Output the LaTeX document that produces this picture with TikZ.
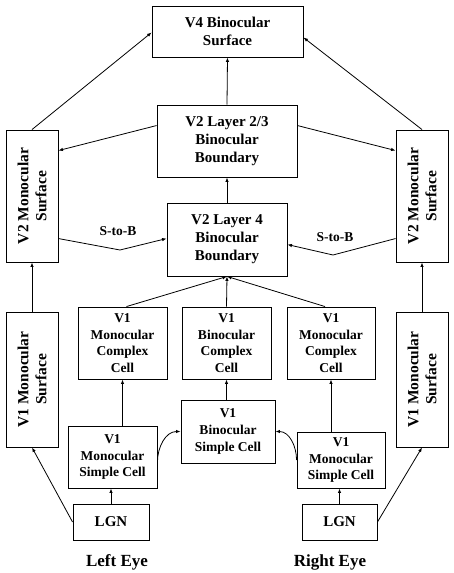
\documentclass[tikz,border=0pt]{standalone}
\usepackage{fontspec}
\setmainfont{Liberation Serif}
\usetikzlibrary{arrows.meta}
\begin{document}
\begin{tikzpicture}[x=1pt,y=-1pt,
  box/.style={draw,line width=0.9pt,rectangle,inner sep=0pt,align=center,font=\fontsize{15}{18}\selectfont\bfseries},
  sbox/.style={box,font=\fontsize{13.5}{16.7}\selectfont\bfseries},
  rtext/.style={rotate=90,align=center,font=\fontsize{15.5}{18}\selectfont\bfseries},
  arr/.style={line width=0.8pt,-{Latex[length=4.5pt,width=3.5pt]}},
  lbl/.style={font=\fontsize{13.5}{16}\selectfont\bfseries},
  eye/.style={font=\fontsize{17}{20}\selectfont\bfseries}]
\useasboundingbox (0,0) rectangle (454,573);
\fill[white] (0,0) rectangle (454,573);
% top nodes
\node[box,minimum width=151pt,minimum height=51pt] (V4) at (227.5,31.5) {V4 Binocular\\Surface};
\node[box,minimum width=140pt,minimum height=72pt] (L23) at (227,141) {V2 Layer 2/3\\Binocular\\Boundary};
\node[box,minimum width=120pt,minimum height=73pt] (L4) at (227,239.5) {V2 Layer 4\\Binocular\\Boundary};
% side columns
\node[box,minimum width=52pt,minimum height=132pt] (V2L) at (32,196) {};
\node[rtext] (V2Lt) at (V2L) {V2 Monocular\\Surface};
\node[box,minimum width=52pt,minimum height=132pt] (V2R) at (422,196) {};
\node[rtext] (V2Rt) at (V2R) {V2 Monocular\\Surface};
\node[box,minimum width=52pt,minimum height=135pt] (V1SL) at (32,379.5) {};
\node[rtext] (V1SLt) at (V1SL) {V1 Monocular\\Surface};
\node[box,minimum width=52pt,minimum height=135pt] (V1SR) at (422,379.5) {};
\node[rtext] (V1SRt) at (V1SR) {V1 Monocular\\Surface};
% V1 cells
\node[sbox,minimum width=89pt,minimum height=72pt] (CL) at (122.5,343) {V1\\Monocular\\Complex\\Cell};
\node[sbox,minimum width=89pt,minimum height=72pt] (CB) at (226.5,343) {V1\\Binocular\\Complex\\Cell};
\node[sbox,minimum width=88pt,minimum height=72pt] (CR) at (331,343) {V1\\Monocular\\Complex\\Cell};
\node[sbox,minimum width=94pt,minimum height=63pt] (BS) at (228,431.5) {V1\\Binocular\\Simple Cell};
\node[sbox,minimum width=89pt,minimum height=62pt] (MSL) at (112.5,457) {V1\\Monocular\\Simple Cell};
\node[sbox,minimum width=88pt,minimum height=56pt] (MSR) at (341,460) {V1\\Monocular\\Simple Cell};
\node[box,minimum width=76pt,minimum height=36pt] (LGNL) at (111,522) {LGN};
\node[box,minimum width=75pt,minimum height=36pt] (LGNR) at (339.5,522) {LGN};
\node[eye] (LE) at (117,562) {Left Eye};
\node[eye] (RE) at (330,562) {Right Eye};
% labels
\node[lbl] (SBL) at (118,231) {S-to-B};
\node[lbl] (SBR) at (335,237) {S-to-B};
\coordinate (kL) at (120,250);
\coordinate (kR) at (333,255);
% connectors
\draw[arr] (L23.north) -- (V4.south);
\draw[arr] (L4.north) -- (L23.south);
\draw[arr] (V2L.north) -- ([yshift=-1pt]V4.west);
\draw[arr] (V2R.north) -- ([yshift=-6pt]V4.east);
\draw[arr] ([yshift=-21pt]L23.north west) -- ([yshift=-21pt]V2L.north east);
\draw[arr] ([yshift=-21pt]L23.north east) -- ([yshift=-21pt]V2R.north west);
\draw[arr] ([yshift=-109pt]V2L.north east) -- (kL) -- ([yshift=-36pt]L4.north west);
\draw[arr] ([yshift=-109pt]V2R.north west) -- (kR) -- ([yshift=-42pt]L4.north east);
\draw[arr] (V1SL.north) -- (V2L.south);
\draw[arr] (V1SR.north) -- (V2R.south);
\draw[arr] ([xshift=4pt]CL.north) -- (L4.south);
\draw[arr] (CB.north) -- (L4.south);
\draw[arr] ([xshift=-6pt]CR.north) -- (L4.south);
\draw[arr] (CL.south |- MSL.north) -- (CL.south);
\draw[arr] (CR.south |- MSR.north) -- (CR.south);
\draw[arr] (CB.south |- BS.north) -- (CB.south);
\draw[arr] (LGNL.north) -- (LGNL.north |- MSL.south);
\draw[arr] (LGNR.north) -- (LGNR.north |- MSR.south);
\draw[arr] (LGNL.west) -- (V1SL.south);
\draw[arr] (LGNR.east) -- (V1SR.south);
\draw[arr] ([yshift=-5pt]MSL.east) to[out=90,in=180] (BS.west);
\draw[arr] (MSR.west) to[out=90,in=0] (BS.east);
\end{tikzpicture}
\end{document}
